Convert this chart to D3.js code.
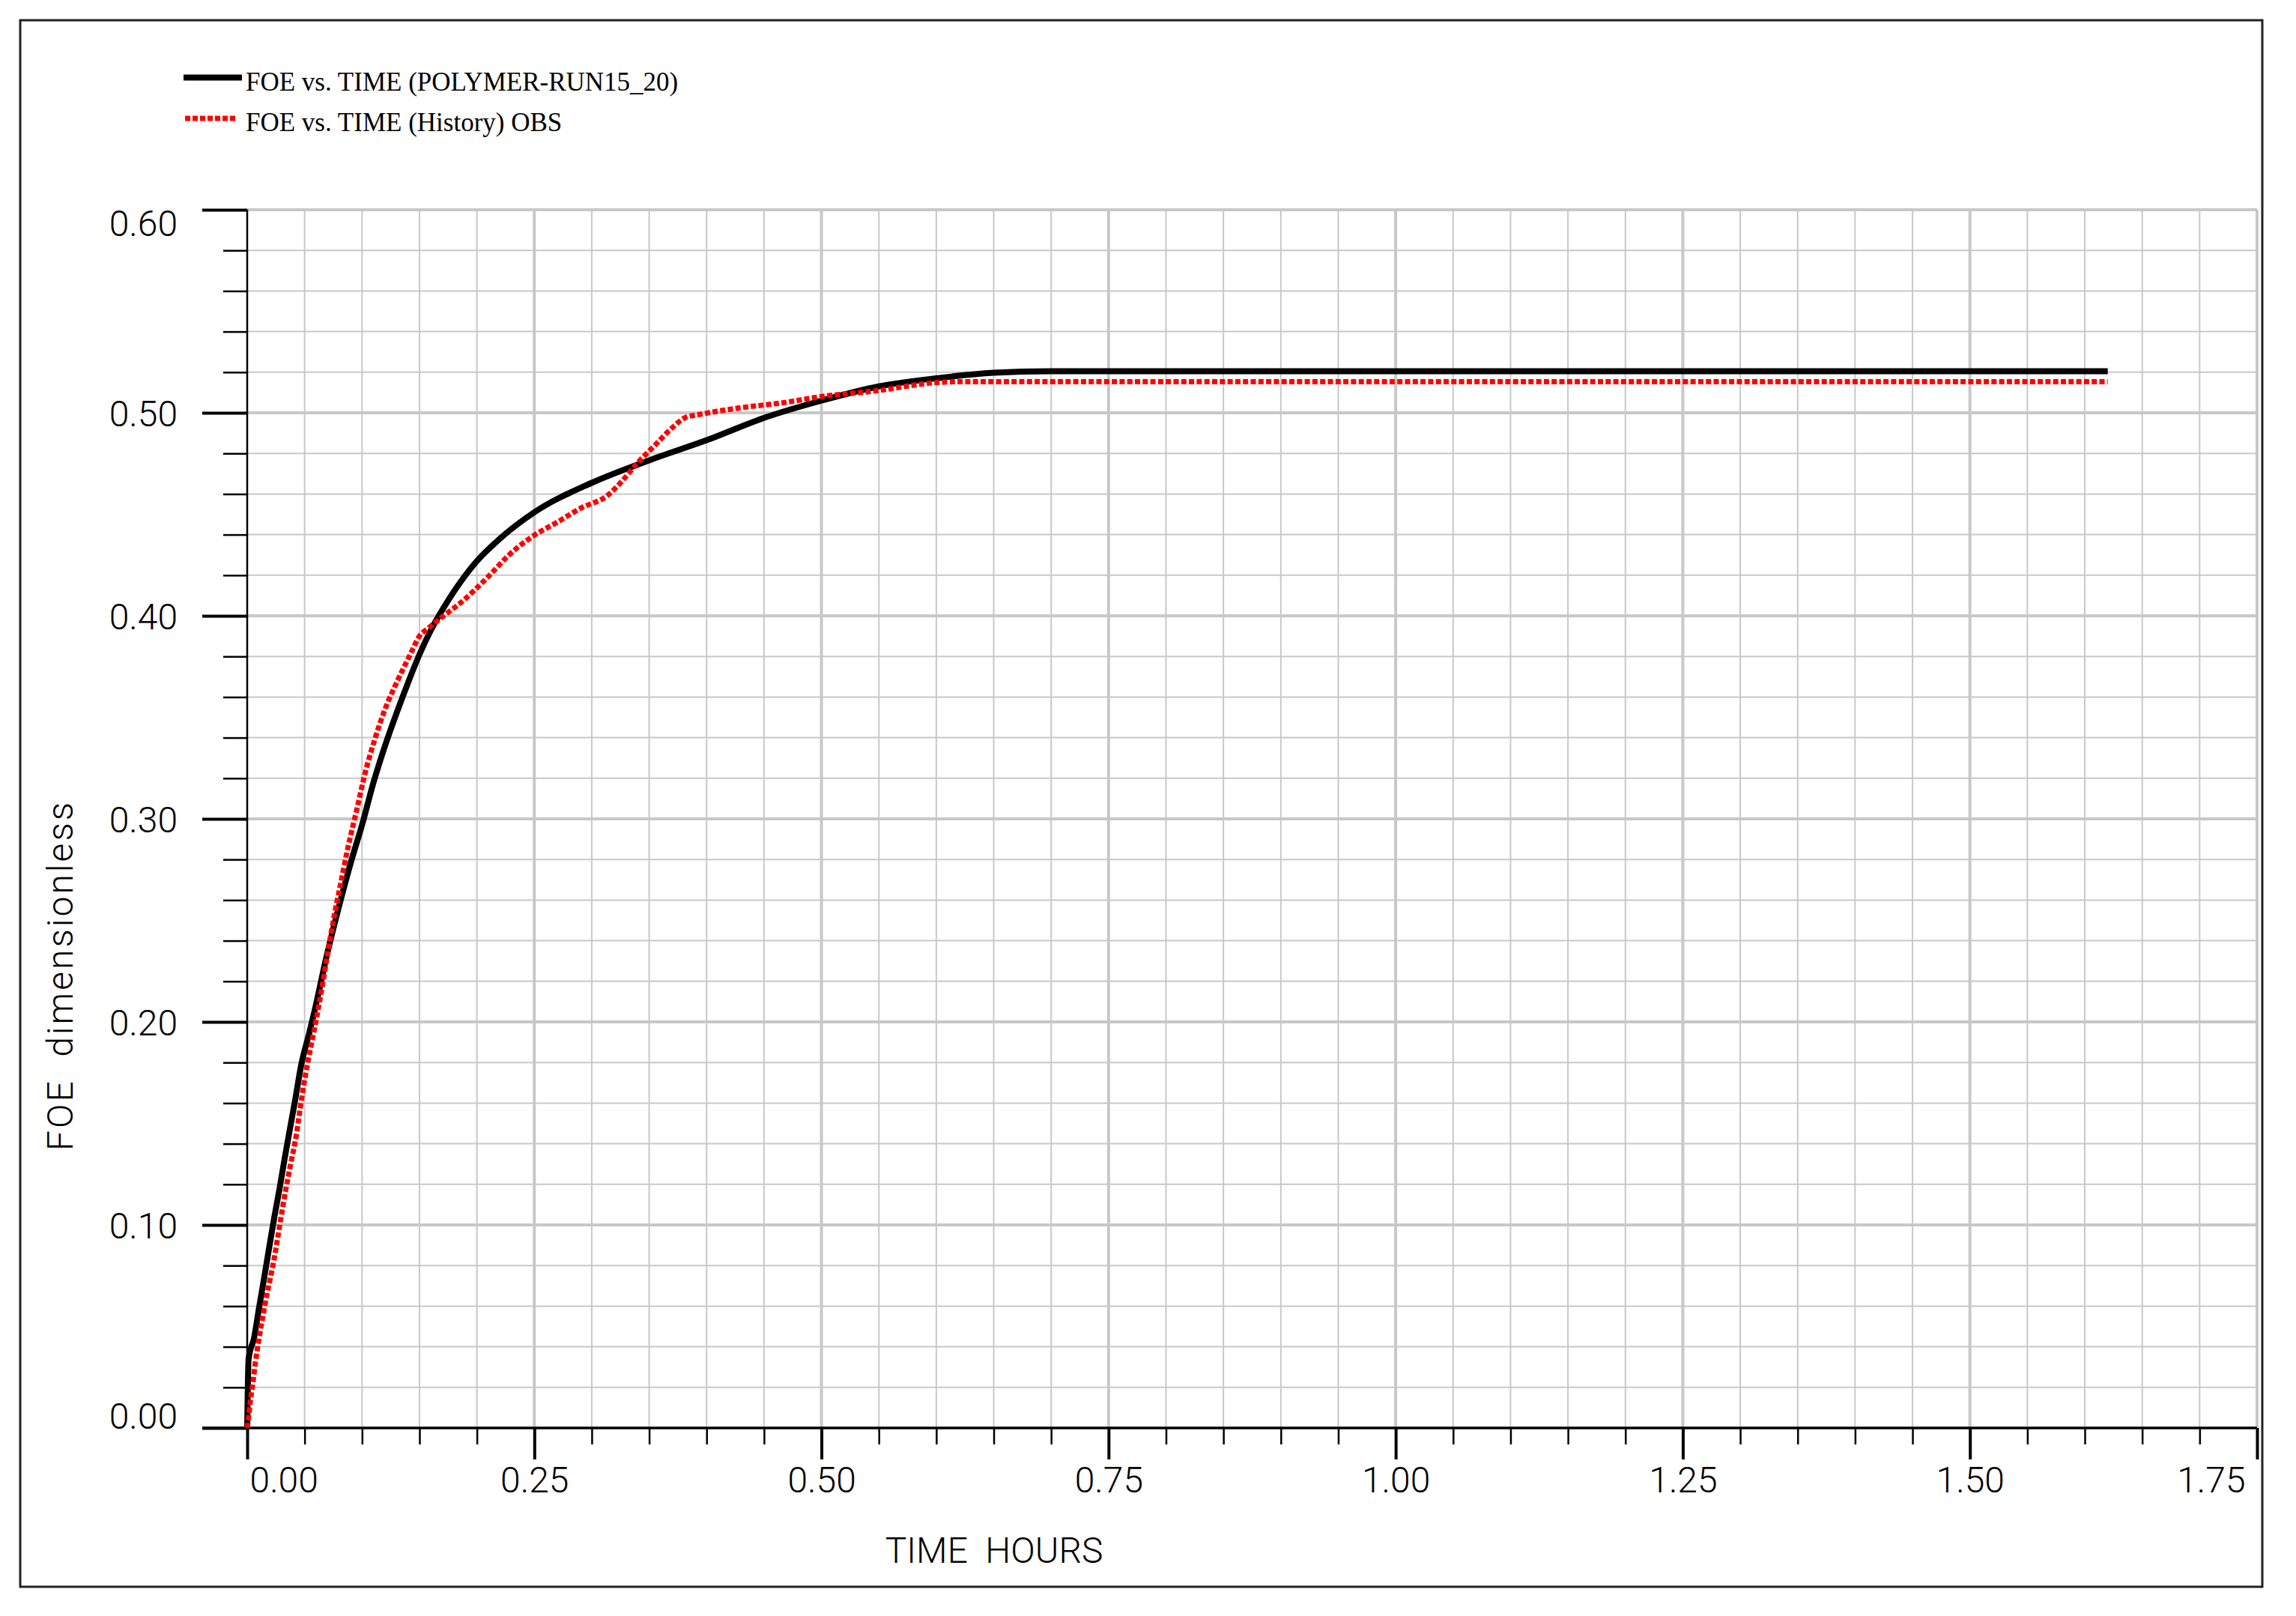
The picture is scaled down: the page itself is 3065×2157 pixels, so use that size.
<!DOCTYPE html>
<html>
<head>
<meta charset="utf-8">
<script src="https://cdn.jsdelivr.net/npm/d3@7"></script>
<style>
  html, body { margin: 0; padding: 0; background: #fff; }
  svg { display: block; }
  .axis-text { font-family: Roboto, 'DejaVu Sans', sans-serif; font-weight: 300; font-size: 48px; fill: #000; white-space: pre; }
  .legend-text { font-family: 'Liberation Serif', 'Times New Roman', serif; font-size: 35px; fill: #000; }
</style>
</head>
<body>
<div id="chart"></div>
<script>
// simulated run (black solid line)
const simTime = [0, 0.0012, 0.006, 0.0104, 0.0149, 0.0193, 0.0238, 0.0282, 0.0327, 0.0371, 0.0416,
  0.0471, 0.0538, 0.0585, 0.069, 0.080, 0.091, 0.10, 0.11, 0.12, 0.13, 0.14, 0.15, 0.16, 0.17,
  0.18, 0.19, 0.20, 0.22, 0.25, 0.30, 0.35, 0.40, 0.45, 0.50, 0.55, 0.60, 0.65, 0.70, 1.62];
const simFoe = [0.0, 0.034, 0.0444, 0.0594, 0.0744, 0.0894, 0.1044, 0.118, 0.133, 0.147, 0.161,
  0.179, 0.194, 0.205, 0.232, 0.257, 0.280, 0.297, 0.318, 0.336, 0.352, 0.367, 0.381, 0.393, 0.403,
  0.412, 0.420, 0.427, 0.438, 0.451, 0.4655, 0.4766, 0.4865, 0.4975, 0.506, 0.513, 0.517, 0.5197, 0.5205, 0.5205];

// observed history (red dotted line)
const obsTime = [0, 0.0011, 0.0027, 0.0049, 0.0071, 0.0104, 0.0138, 0.0171, 0.0204, 0.0238, 0.0271,
  0.0304, 0.0338, 0.0382, 0.0427, 0.046, 0.0493, 0.0527, 0.0576, 0.063, 0.069, 0.075, 0.081, 0.087,
  0.096, 0.102, 0.111, 0.12, 0.13, 0.142, 0.150, 0.158, 0.171, 0.186, 0.209, 0.228, 0.25, 0.269,
  0.291, 0.314, 0.325, 0.340, 0.355, 0.370, 0.381, 0.396, 0.430, 0.467, 0.50, 0.55, 0.598, 0.617, 1.62];
const obsFoe = [0, 0.0044, 0.013, 0.022, 0.032, 0.0444, 0.0556, 0.0656, 0.0744, 0.0844, 0.0956,
  0.107, 0.118, 0.131, 0.144, 0.157, 0.169, 0.180, 0.194, 0.210, 0.230, 0.250, 0.267, 0.284,
  0.306, 0.321, 0.339, 0.354, 0.367, 0.381, 0.390, 0.394, 0.400, 0.4065, 0.4188, 0.430, 0.4397, 0.4458,
  0.4532, 0.4594, 0.4655, 0.4754, 0.484, 0.4926, 0.4975, 0.4994, 0.5025, 0.505, 0.508, 0.511, 0.5148, 0.5153, 0.5153];

const xTickLabels = ['0.00', '0.25', '0.50', '0.75', '1.00', '1.25', '1.50', '1.75'];
const yTickLabels = ['0.00', '0.10', '0.20', '0.30', '0.40', '0.50', '0.60'];
const legendLabels = ['FOE vs. TIME (POLYMER-RUN15_20)', 'FOE vs. TIME (History) OBS'];
const xTitle = 'TIME  HOURS';
const yTitle = 'FOE  dimensionless';

const width = 3065, height = 2157;
const plot = {left: 330, right: 3013, top: 280, bottom: 1906};
const gridColor = '#c8c8c8';

const x = d3.scaleLinear().domain([0, 1.75]).range([plot.left, plot.right]);
const y = d3.scaleLinear().domain([0, 0.6]).range([plot.bottom, plot.top]);

// minor steps: 0.05 on time, 0.02 on FOE
const xMinor = d3.range(0, 36).map(i => +(i * 0.05).toFixed(2));
const yMinor = d3.range(0, 31).map(i => +(i * 0.02).toFixed(2));
const xMajor = xTickLabels.map(Number);
const yMajor = yTickLabels.map(Number);

const svg = d3.select('#chart').append('svg')
  .attr('width', width)
  .attr('height', height);

svg.append('rect')
  .attr('width', width).attr('height', height)
  .attr('fill', '#fff');

// outer frame
svg.append('rect')
  .attr('x', 27).attr('y', 27)
  .attr('width', 3020 - 27).attr('height', 2118 - 27)
  .attr('fill', 'none')
  .attr('stroke', '#222')
  .attr('stroke-width', 3);

// grid
const grid = svg.append('g').attr('class', 'grid');
grid.selectAll('.vgrid')
  .data(xMinor.filter(d => d > 0))
  .enter().append('line')
  .attr('x1', d => x(d)).attr('x2', d => x(d))
  .attr('y1', plot.top).attr('y2', plot.bottom)
  .attr('stroke', gridColor)
  .attr('stroke-width', d => xMajor.includes(d) ? 4 : 2);

grid.selectAll('.hgrid')
  .data(yMinor.filter(d => d > 0))
  .enter().append('line')
  .attr('y1', d => y(d)).attr('y2', d => y(d))
  .attr('x1', plot.left).attr('x2', plot.right)
  .attr('stroke', gridColor)
  .attr('stroke-width', d => yMajor.includes(d) ? 4 : 2);

// axes: minor ticks, then major ticks with labels
const styleTicks = (g, w) => {
  g.select('.domain').remove();
  g.selectAll('.tick line').attr('stroke', '#000').attr('stroke-width', w);
};

svg.append('g')
  .attr('transform', 'translate(' + plot.left + ',0)')
  .call(d3.axisLeft(y).tickValues(yMinor).tickSize(32).tickFormat(''))
  .call(g => styleTicks(g, 2.5));

const yAxis = svg.append('g')
  .attr('transform', 'translate(' + plot.left + ',0)')
  .call(d3.axisLeft(y).tickValues(yMajor).tickSize(60).tickPadding(33)
    .tickFormat((d, i) => yTickLabels[i]))
  .call(g => styleTicks(g, 4));
yAxis.selectAll('.tick text')
  .attr('class', 'axis-text')
  .attr('font-size', null).attr('font-family', null)
  .attr('dy', (d, i) => i === 0 ? '0em' : (i === yTickLabels.length - 1 ? '0.71em' : '0.36em'));

svg.append('g')
  .attr('transform', 'translate(0,' + plot.bottom + ')')
  .call(d3.axisBottom(x).tickValues(xMinor).tickSize(22).tickFormat(''))
  .call(g => styleTicks(g, 2.5));

const xAxis = svg.append('g')
  .attr('transform', 'translate(0,' + plot.bottom + ')')
  .call(d3.axisBottom(x).tickValues(xMajor).tickSize(42).tickPadding(10)
    .tickFormat((d, i) => xTickLabels[i]))
  .call(g => styleTicks(g, 4));
xAxis.selectAll('.tick text')
  .attr('class', 'axis-text')
  .attr('text-anchor', (d, i) => i === 0 ? 'start' : (i === xTickLabels.length - 1 ? 'end' : 'middle'))
  .attr('dx', (d, i) => i === xTickLabels.length - 1 ? -16 : (i === 0 ? 3 : 0));

// axis lines
svg.append('line')
  .attr('x1', plot.left).attr('x2', plot.left)
  .attr('y1', plot.top).attr('y2', plot.bottom)
  .attr('stroke', '#000').attr('stroke-width', 2.5);
svg.append('line')
  .attr('x1', plot.left - 60).attr('x2', plot.right)
  .attr('y1', plot.bottom).attr('y2', plot.bottom)
  .attr('stroke', '#000').attr('stroke-width', 3.5);

// axis titles
svg.append('text')
  .attr('class', 'axis-text')
  .attr('x', 1327).attr('y', 2086)
  .attr('text-anchor', 'middle')
  .text(xTitle);

svg.append('text')
  .attr('class', 'axis-text')
  .attr('transform', 'translate(97,1302) rotate(-90)')
  .attr('text-anchor', 'middle')
  .attr('letter-spacing', 3)
  .text(yTitle);

// series
const line = d3.line()
  .curve(d3.curveMonotoneX)
  .x(d => x(d[0]))
  .y(d => y(d[1]));

svg.append('path')
  .datum(d3.zip(simTime, simFoe))
  .attr('d', line)
  .attr('fill', 'none')
  .attr('stroke', '#000')
  .attr('stroke-width', 8);

svg.append('path')
  .datum(d3.zip(obsTime, obsFoe))
  .attr('d', line)
  .attr('fill', 'none')
  .attr('stroke', '#ff0000')
  .attr('stroke-width', 7)
  .attr('stroke-dasharray', '7 3.3');

// legend
const legend = svg.append('g').attr('class', 'legend');
const legendStyles = [
  {stroke: '#000', width: 8, dash: null, x1: 245, x2: 323, y: 103.5, ty: 121},
  {stroke: '#ff0000', width: 7, dash: '7 3', x1: 247, x2: 317, y: 158, ty: 175}
];
legendStyles.forEach((s, i) => {
  legend.append('line')
    .attr('x1', s.x1).attr('x2', s.x2)
    .attr('y1', s.y).attr('y2', s.y)
    .attr('stroke', s.stroke)
    .attr('stroke-width', s.width)
    .attr('stroke-dasharray', s.dash);
  legend.append('text')
    .attr('class', 'legend-text')
    .attr('x', 328).attr('y', s.ty)
    .text(legendLabels[i]);
});
</script>
</body>
</html>
